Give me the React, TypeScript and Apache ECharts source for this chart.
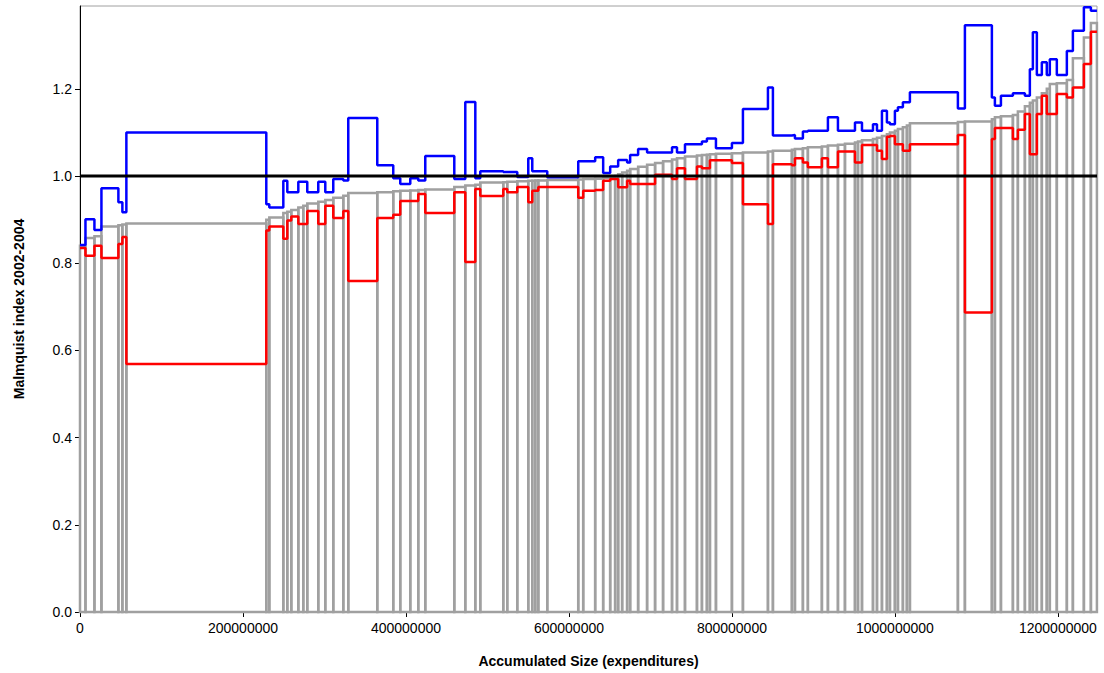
import React, { useEffect, useRef } from "react";
import * as echarts from "echarts";

// Size of each unit (expenditures, in millions), ordered by point estimate
const sizesM = [
  6.7, 11.0, 8.6, 20.8, 4.9, 4.9, 171.7, 3.7, 17.2, 4.9,
  4.9, 8.6, 6.1, 4.9, 13.5, 8.6, 9.8, 12.3, 6.1, 35.6,
  19.6, 8.6, 12.3, 9.8, 8.6, 35.6, 13.5, 12.3, 6.1, 28.2,
  4.9, 12.3, 13.5, 4.9, 3.7, 3.7, 11.0, 38.0, 6.1, 14.7,
  9.8, 8.6, 6.1, 3.7, 4.9, 6.1, 3.7, 9.8, 11.0, 9.8,
  9.8, 11.0, 6.1, 9.8, 14.7, 6.1, 6.1, 3.7, 7.4, 19.6,
  13.5, 30.7, 6.1, 23.3, 3.7, 9.8, 6.1, 17.2, 7.4, 12.3,
  8.6, 12.3, 3.7, 4.9, 13.5, 4.9, 6.1, 6.1, 3.7, 6.1,
  3.7, 6.1, 4.9, 3.7, 58.9, 8.6, 33.1, 3.7, 7.4, 14.7,
  6.1, 8.6, 6.1, 3.7, 4.9, 6.1, 6.1, 3.7, 8.6, 12.3,
  7.4, 13.5, 8.6, 7.4,
];

// Point estimate (grey)
const estimate = [
  0.840, 0.858, 0.862, 0.884, 0.887, 0.889, 0.891, 0.900, 0.905, 0.915,
  0.918, 0.922, 0.928, 0.932, 0.937, 0.941, 0.945, 0.950, 0.955, 0.961,
  0.963, 0.965, 0.966, 0.967, 0.968, 0.969, 0.975, 0.978, 0.980, 0.985,
  0.986, 0.987, 0.988, 0.989, 0.989, 0.990, 0.990, 0.991, 0.992, 0.993,
  0.994, 0.996, 0.998, 1.000, 1.004, 1.008, 1.012, 1.016, 1.021, 1.026,
  1.030, 1.034, 1.038, 1.041, 1.045, 1.047, 1.048, 1.049, 1.050, 1.051,
  1.052, 1.054, 1.056, 1.058, 1.060, 1.062, 1.064, 1.066, 1.068, 1.070,
  1.072, 1.074, 1.077, 1.079, 1.082, 1.085, 1.088, 1.092, 1.096, 1.100,
  1.104, 1.108, 1.112, 1.116, 1.121, 1.124, 1.125, 1.130, 1.135, 1.137,
  1.140, 1.148, 1.160, 1.168, 1.173, 1.180, 1.190, 1.200, 1.211, 1.213,
  1.220, 1.270, 1.318, 1.351,
];

// Upper bound (blue)
const upper = [
  0.842, 0.901, 0.876, 0.972, 0.940, 0.917, 1.100, 0.935, 0.928, 0.989,
  0.963, 0.963, 0.987, 0.987, 0.963, 0.987, 0.963, 0.993, 0.990, 1.133,
  1.025, 0.995, 0.982, 0.995, 0.990, 1.046, 0.993, 1.170, 0.995, 1.011,
  1.009, 1.009, 0.998, 1.041, 1.011, 1.011, 1.011, 0.997, 1.034, 1.034,
  1.043, 1.007, 1.022, 1.022, 1.037, 1.037, 1.031, 1.048, 1.062, 1.054,
  1.054, 1.054, 1.066, 1.054, 1.073, 1.073, 1.079, 1.086, 1.086, 1.064,
  1.076, 1.154, 1.203, 1.093, 1.094, 1.086, 1.102, 1.104, 1.104, 1.135,
  1.104, 1.104, 1.123, 1.123, 1.104, 1.119, 1.104, 1.150, 1.123, 1.119,
  1.150, 1.158, 1.169, 1.169, 1.192, 1.155, 1.346, 1.180, 1.161, 1.184,
  1.190, 1.190, 1.184, 1.245, 1.330, 1.232, 1.261, 1.232, 1.268, 1.232,
  1.287, 1.333, 1.387, 1.379,
];

// Lower bound (red)
const lower = [
  0.835, 0.817, 0.840, 0.812, 0.844, 0.860, 0.569, 0.875, 0.884, 0.856,
  0.898, 0.907, 0.890, 0.890, 0.920, 0.890, 0.932, 0.904, 0.920, 0.759,
  0.904, 0.911, 0.943, 0.943, 0.959, 0.915, 0.963, 0.803, 0.970, 0.954,
  0.970, 0.963, 0.975, 0.940, 0.966, 0.966, 0.975, 0.975, 0.950, 0.966,
  0.968, 0.989, 0.993, 0.993, 0.974, 0.974, 0.989, 0.982, 0.982, 0.982,
  1.003, 1.003, 0.993, 1.018, 0.993, 1.022, 1.018, 1.018, 1.036, 1.036,
  1.030, 0.935, 0.890, 1.027, 1.025, 1.041, 1.031, 1.020, 1.041, 1.020,
  1.056, 1.056, 1.031, 1.031, 1.071, 1.071, 1.058, 1.039, 1.090, 1.092,
  1.073, 1.073, 1.058, 1.058, 1.073, 1.094, 0.687, 1.085, 1.110, 1.110,
  1.085, 1.106, 1.142, 1.050, 1.050, 1.142, 1.184, 1.142, 1.142, 1.188,
  1.180, 1.203, 1.257, 1.331,
];

const xMax = 1248000000;
const xStep = 200000000;
const yMax = 1.39;
const yStep = 0.2;
const reference = 1.0;

const FONT = "'Liberation Sans', Arial, sans-serif";

export default function App() {
  const ref = useRef<HTMLDivElement>(null);

  useEffect(() => {
    if (!ref.current) return;
    const chart = echarts.init(ref.current, null, { renderer: "svg" });

    const starts: number[] = [];
    const ends: number[] = [];
    let acc = 0;
    sizesM.forEach((s) => {
      starts.push(acc);
      acc += s * 1e6;
      ends.push(acc);
    });

    const rects = estimate.map((v, i) => [starts[i], ends[i], v]);
    const steps = (vals: number[]) => {
      const out: number[][] = [];
      vals.forEach((v, i) => {
        out.push([starts[i], v]);
        out.push([ends[i], v]);
      });
      return out;
    };

    chart.setOption({
      animation: false,
      backgroundColor: "#ffffff",
      grid: {
        left: 80,
        right: 7,
        top: 6,
        bottom: 60,
        show: true,
        borderColor: "#a0a0a0",
        borderWidth: 1,
      },
      xAxis: {
        type: "value",
        min: 0,
        max: xMax,
        interval: xStep,
        name: "Accumulated Size (expenditures)",
        nameLocation: "middle",
        nameGap: 42,
        nameTextStyle: { fontFamily: FONT, fontSize: 14, fontWeight: "bold", color: "#000" },
        axisLine: { show: true, lineStyle: { color: "#000", width: 1 } },
        axisTick: { show: true, length: 5, lineStyle: { color: "#000" } },
        axisLabel: {
          color: "#000",
          fontFamily: FONT,
          fontSize: 14,
          margin: 9,
          showMaxLabel: false,
          formatter: (v: number) => String(Math.round(v)),
        },
        splitLine: { show: false },
      },
      yAxis: {
        type: "value",
        min: 0,
        max: yMax,
        interval: yStep,
        name: "Malmquist index 2002-2004",
        nameLocation: "middle",
        nameGap: 54,
        nameTextStyle: { fontFamily: FONT, fontSize: 14, fontWeight: "bold", color: "#000" },
        axisLine: { show: true, lineStyle: { color: "#000", width: 1 } },
        axisTick: { show: true, length: 5, lineStyle: { color: "#000" } },
        axisLabel: {
          color: "#000",
          fontFamily: FONT,
          fontSize: 14,
          margin: 8,
          showMaxLabel: false,
          formatter: (v: number) => v.toFixed(1),
        },
        splitLine: { show: false },
      },
      series: [
        {
          type: "custom",
          name: "estimate",
          data: rects,
          encode: { x: [0, 1], y: 2 },
          renderItem: (params: any, api: any) => {
            const p0 = api.coord([api.value(0), 0]);
            const p1 = api.coord([api.value(1), api.value(2)]);
            return {
              type: "rect",
              shape: {
                x: p0[0],
                y: p1[1],
                width: p1[0] - p0[0],
                height: p0[1] - p1[1],
              },
              style: { fill: "none", stroke: "#a0a0a0", lineWidth: 2.5 },
            };
          },
          z: 1,
        },
        {
          type: "line",
          name: "lower",
          data: steps(lower),
          showSymbol: false,
          symbol: "none",
          lineStyle: { color: "#ff0000", width: 2.5 },
          z: 2,
        },
        {
          type: "line",
          name: "upper",
          data: steps(upper),
          showSymbol: false,
          symbol: "none",
          lineStyle: { color: "#0000ff", width: 2.5 },
          z: 3,
        },
        {
          type: "line",
          name: "reference",
          data: [
            [0, reference],
            [xMax, reference],
          ],
          showSymbol: false,
          symbol: "none",
          lineStyle: { color: "#000000", width: 3 },
          z: 4,
        },
      ],
    });

    return () => chart.dispose();
  }, []);

  return (
    <div
      ref={ref}
      style={{ position: "fixed", left: 0, top: 0, width: 1104, height: 673 }}
    />
  );
}
